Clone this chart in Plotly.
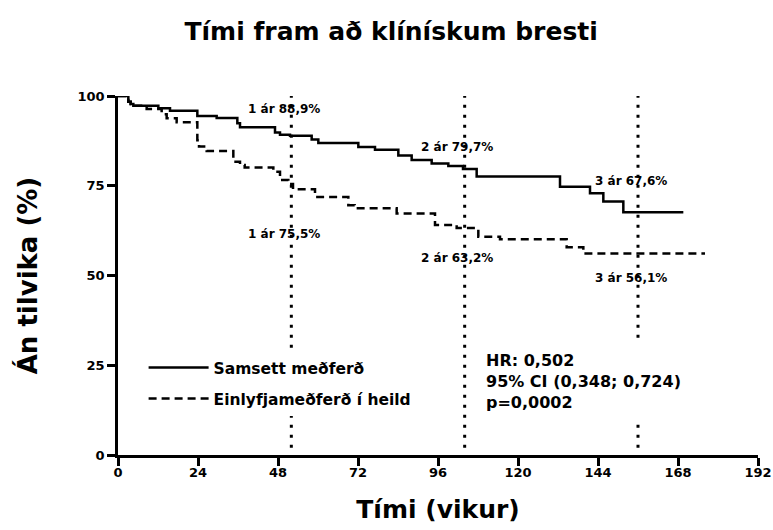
import plotly.graph_objects as go

# ---- data ----
solid_weeks = [0, 3.1, 3.8, 4.6, 12.1, 15.6, 23.8, 29.6, 35.8, 36.6, 47.1, 48.6, 51.6, 58.1,
               60.1, 72.1, 77.1, 84.1, 88.1, 94.1, 99.1, 103.5, 107.6, 132.6, 141.6, 145.6,
               151.6, 169.6]
solid_pct = [100, 98.4, 97.8, 97.3, 96.6, 95.9, 94.4, 93.9, 92.4, 91.3, 89.8, 89.2, 88.9, 87.9,
             86.9, 85.8, 85.0, 83.4, 82.2, 81.2, 80.5, 79.7, 77.6, 74.7, 72.9, 70.6,
             67.6, 67.6]

mono_weeks = [0, 3.1, 3.8, 4.6, 8.6, 13.1, 14.6, 17.6, 23.8, 24.3, 26.6, 34.6, 36.6, 38.0,
              46.6, 48.6, 51.1, 52.5, 59.1, 69.1, 71.0, 83.6, 95.1, 101.6, 108.1, 114.6,
              134.6, 139.6, 176.1]
mono_pct = [100, 98.4, 97.8, 97.3, 96.4, 94.9, 93.8, 92.7, 87.7, 85.9, 84.7, 81.7, 80.8, 80.1,
            78.9, 76.6, 75.5, 74.0, 71.9, 69.6, 68.7, 67.3, 64.1, 63.2, 60.8, 60.1,
            57.9, 56.1, 56.1]

year_weeks = [52, 104, 156]
year_names = ["1 ár", "2 ár", "3 ár"]
solid_year_pct = ["88,9%", "79,7%", "67,6%"]
mono_year_pct = ["75,5%", "63,2%", "56,1%"]

x_ticks = [0, 24, 48, 72, 96, 120, 144, 168, 192]
y_ticks = [0, 25, 50, 75, 100]

series_names = ["Samsett meðferð", "Einlyfjameðferð í heild"]
stats_lines = ["HR: 0,502", "95% CI (0,348; 0,724)", "p=0,0002"]

FONT = "DejaVu Sans"

fig = go.Figure()
fig.add_trace(go.Scatter(x=solid_weeks, y=solid_pct, mode="lines", line_shape="hv",
                         name=series_names[0], legendgroup="a",
                         line=dict(color="black", width=2.5), cliponaxis=False))
fig.add_trace(go.Scatter(x=mono_weeks, y=mono_pct, mode="lines", line_shape="hv",
                         name=series_names[1], legendgroup="b",
                         line=dict(color="black", width=2.5, dash="8px,5px"), cliponaxis=False))

shapes = []
for w in year_weeks:
    shapes.append(dict(type="line", xref="x", yref="y", x0=w, x1=w, y0=2, y1=101,
                       line=dict(color="black", width=3, dash="3px,7px")))

annotations = []
solid_label_y = [96.4, 85.7, 76.4]
mono_label_y = [61.7, 54.8, 49.2]
for i, w in enumerate(year_weeks):
    annotations.append(dict(x=w - 2.2, y=solid_label_y[i], xref="x", yref="y",
                            text=f"{year_names[i]} {solid_year_pct[i]}", showarrow=False,
                            font=dict(family=FONT, size=12, color="black", weight="bold")))
    annotations.append(dict(x=w - 2.2, y=mono_label_y[i], xref="x", yref="y",
                            text=f"{year_names[i]} {mono_year_pct[i]}", showarrow=False,
                            font=dict(family=FONT, size=12, color="black", weight="bold")))

annotations.append(dict(x=107.1, y=20.6, xref="x", yref="y", xanchor="left", yanchor="middle",
                        align="left", text="<br>".join(stats_lines), showarrow=False,
                        bgcolor="white", borderpad=10,
                        font=dict(family=FONT, size=16, color="black", weight="bold")))

fig.update_layout(
    width=773, height=530,
    margin=dict(l=118, r=15, t=96, b=75),
    paper_bgcolor="white", plot_bgcolor="white",
    title=dict(text="Tími fram að klínískum bresti", x=0.506, xanchor="center",
               y=1 - 31 / 530, yanchor="middle", yref="container",
               font=dict(family=FONT, size=25, color="black", weight="bold")),
    xaxis=dict(range=[0, 192], tickvals=x_ticks, ticks="outside", ticklen=8, tickwidth=2.5,
               tickcolor="black", showline=True, linecolor="black", linewidth=2.5,
               showgrid=False, zeroline=False, automargin=False, ticklabelstandoff=-4,
               tickfont=dict(family=FONT, size=13, color="black", weight="bold"),
               title=dict(text="Tími (vikur)", standoff=22,
                          font=dict(family=FONT, size=25, color="black", weight="bold"))),
    yaxis=dict(range=[0, 100], tickvals=y_ticks, ticks="outside", ticklen=8, tickwidth=2.5,
               tickcolor="black", showline=True, linecolor="black", linewidth=2.5,
               showgrid=False, zeroline=False, automargin=False,
               tickfont=dict(family=FONT, size=13, color="black", weight="bold"),
               title=dict(text="Án tilvika (%)", standoff=33,
                          font=dict(family=FONT, size=26, color="black", weight="bold"))),
    legend=dict(x=0.04, y=0.29, xanchor="left", yanchor="top", bgcolor="white",
                font=dict(family=FONT, size=15.5, color="black", weight="bold"),
                tracegroupgap=8, itemwidth=60),
    shapes=shapes,
    annotations=annotations,
)

fig.write_html("out.html", config={"displayModeBar": False},
               post_script="document.body.style.margin='0px';document.body.style.overflow='hidden';")
